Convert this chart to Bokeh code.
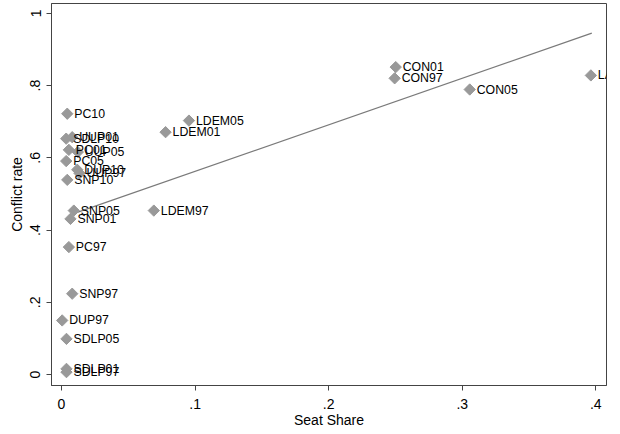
from bokeh.plotting import figure
from bokeh.models import Range1d, ColumnDataSource, FixedTicker
from bokeh.core.properties import value
from bokeh.embed import file_html
from bokeh.resources import INLINE
import math

labels = ["PC10", "SDLP10", "UUP01", "PC01", "UUP05", "PC05", "DUP10", "UUP97",
          "SNP10", "SNP05", "SNP01", "PC97", "SNP97", "DUP97", "SDLP05", "SDLP01",
          "SDLP97", "LDEM97", "LDEM05", "LDEM01", "CON01", "CON97", "CON05", "LAB10"]
seat_share = [0.0043, 0.0035, 0.0080, 0.0055, 0.0122, 0.0035, 0.0118, 0.0135,
              0.0043, 0.0092, 0.0067, 0.0055, 0.0080, 0.0005, 0.0037, 0.0037,
              0.0037, 0.0691, 0.0954, 0.0779, 0.2502, 0.2494, 0.3056, 0.3963]
conflict_rate = [0.722, 0.653, 0.657, 0.622, 0.616, 0.591, 0.567, 0.557,
                 0.539, 0.454, 0.431, 0.353, 0.224, 0.150, 0.099, 0.016,
                 0.007, 0.454, 0.703, 0.671, 0.851, 0.820, 0.789, 0.828]

fit_x = [0.008, 0.397]
fit_y = [0.444, 0.945]

x_ticks = [0, 0.1, 0.2, 0.3, 0.4]
x_tick_labels = ["0", ".1", ".2", ".3", ".4"]
y_ticks = [0, 0.2, 0.4, 0.6, 0.8, 1.0]
y_tick_labels = ["0", ".2", ".4", ".6", ".8", "1"]

FONT = "Liberation Sans"

p = figure(width=620, height=434, output_backend="svg", toolbar_location=None,
           x_range=Range1d(-0.0075, 0.408), y_range=Range1d(-0.030, 1.027),
           min_border_left=51, min_border_right=14, min_border_top=3, min_border_bottom=49)
p.background_fill_color = "white"
p.border_fill_color = "white"
p.outline_line_color = "#444444"
p.outline_line_width = 1
p.xgrid.visible = False
p.ygrid.visible = False

src = ColumnDataSource(dict(x=seat_share, y=conflict_rate, label=labels))

p.line(fit_x, fit_y, line_color="#7a7a7a", line_width=1.3)
p.scatter("x", "y", source=src, marker="square", angle=math.pi / 4, size=8,
          fill_color="#999999", line_color="#999999")
p.text("x", "y", text="label", source=src, x_offset=7, text_baseline="middle",
       text_align="left", text_font=value(FONT), text_font_size="12.3px", text_color="black")

for ax in (p.xaxis[0], p.yaxis[0]):
    ax.axis_line_color = "#444444"
    ax.major_tick_line_color = "#444444"
    ax.minor_tick_line_color = None
    ax.major_tick_in = 0
    ax.major_tick_out = 5
    ax.major_label_text_font = FONT
    ax.major_label_text_font_size = "14px"
    ax.major_label_text_color = "black"
    ax.axis_label_text_font = FONT
    ax.axis_label_text_font_size = "14px"
    ax.axis_label_text_font_style = "normal"
    ax.axis_label_text_color = "black"

p.xaxis.ticker = FixedTicker(ticks=x_ticks)
p.xaxis.major_label_overrides = dict(zip(x_ticks, x_tick_labels))
p.yaxis.ticker = FixedTicker(ticks=y_ticks)
p.yaxis.major_label_overrides = dict(zip(y_ticks, y_tick_labels))
p.yaxis.major_label_orientation = "vertical"
p.xaxis.axis_label = "Seat Share"
p.yaxis.axis_label = "Conflict rate"
p.xaxis.major_label_standoff = 8
p.xaxis.axis_label_standoff = 0
p.yaxis.major_label_standoff = 6
p.yaxis.axis_label_standoff = 3

open("out.html", "w").write(file_html(p, INLINE))
